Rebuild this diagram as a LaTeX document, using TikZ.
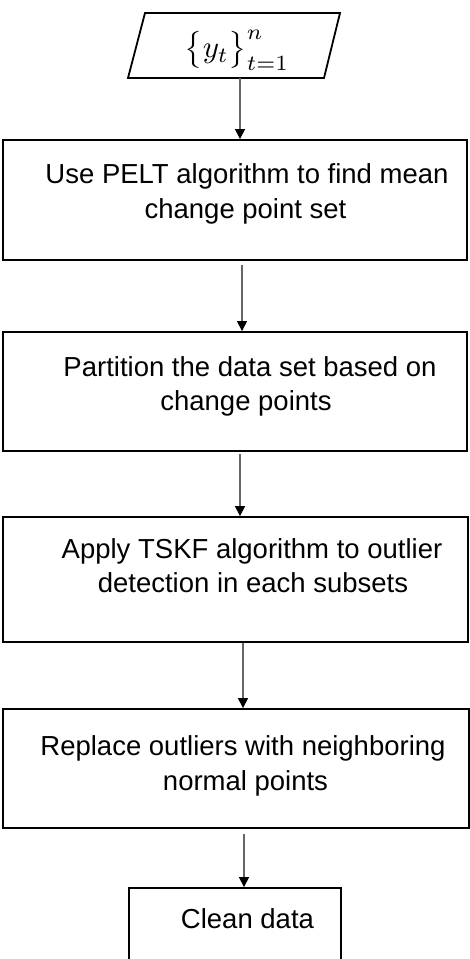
\documentclass[tikz,border=0pt]{standalone}
\usepackage{fontspec}
\setmainfont{Liberation Sans}
\usetikzlibrary{arrows.meta}
\begin{document}
\begin{tikzpicture}[x=1pt,y=-1pt,
  box/.style={draw=black,line width=1.8pt,inner sep=0pt},
  lbl/.style={font=\fontsize{27.5}{33}\selectfont,anchor=base,inner sep=0pt},
  arr/.style={draw=black!60,line width=1.1pt,-{Triangle[width=10pt,length=10pt,color=black]}}]
\useasboundingbox (0,0) rectangle (470,959);
\clip (0,0) rectangle (470,959);
% input parallelogram
\coordinate (pa) at (145,13);
\coordinate (pb) at (340,13);
\coordinate (pc) at (324,78);
\coordinate (pd) at (128,78);
\draw[line width=1.8pt,line join=miter] (pa) -- (pb) -- (pc) -- (pd) -- cycle;
\node[inner sep=0pt,scale=3.1,font=\fontsize{10}{12}\selectfont] (pt) at (237,50) {$\bigl\{ y_t \bigr\}_{t=1}^{n}$};
\coordinate (p0) at (240,78);
% boxes
\node[box,minimum width=464pt,minimum height=120pt] (b1) at (235,200) {};
\node[box,minimum width=464pt,minimum height=119pt] (b2) at (235,391.5) {};
\node[box,minimum width=465pt,minimum height=125pt] (b3) at (235.5,579.5) {};
\node[box,minimum width=466pt,minimum height=119pt] (b4) at (236,768.5) {};
\node[box,minimum width=212pt,minimum height=90pt] (b5) at (235,933) {};
% texts
\node[lbl] (t1a) at (247,183) {Use PELT algorithm to find mean};
\node[lbl] (t1b) at (245.5,218) {change point set};
\node[lbl] (t2a) at (250,376) {Partition the data set based on};
\node[lbl] (t2b) at (246,410) {change points};
\node[lbl] (t3a) at (252,558) {Apply TSKF algorithm to outlier};
\node[lbl] (t3b) at (253,592) {detection in each subsets};
\node[lbl] (t4a) at (243,755) {Replace outliers with neighboring};
\node[lbl] (t4b) at (245.5,790) {normal points};
\node[lbl] (t5) at (247.5,928) {Clean data};
% arrows
\draw[arr] (p0) -- (p0 |- b1.north);
\draw[arr,shorten <=4pt] ([xshift=7pt]b1.south) -- ([xshift=7pt]b1.south |- b2.north);
\draw[arr,shorten <=2pt] ([xshift=5pt]b2.south) -- ([xshift=5pt]b2.south |- b3.north);
\draw[arr] ([xshift=7.5pt]b3.south) -- ([xshift=7.5pt]b3.south |- b4.north);
\draw[arr,shorten <=5pt] ([xshift=8pt]b4.south) -- ([xshift=8pt]b4.south |- b5.north);
\end{tikzpicture}
\end{document}
